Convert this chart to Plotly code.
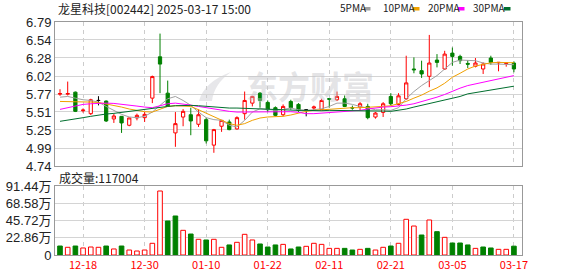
import plotly.graph_objects as go
from plotly.subplots import make_subplots

# ---------------- data ----------------
dates = ["12-13", "12-16", "12-17", "12-18", "12-19", "12-20", "12-23", "12-24", "12-25", "12-26",
         "12-27", "12-30", "12-31", "01-02", "01-03", "01-06", "01-07", "01-08", "01-09", "01-10",
         "01-13", "01-14", "01-15", "01-16", "01-17", "01-20", "01-21", "01-22", "01-23", "01-24",
         "01-27", "02-05", "02-06", "02-07", "02-10", "02-11", "02-12", "02-13", "02-14", "02-17",
         "02-18", "02-19", "02-20", "02-21", "02-24", "02-25", "02-26", "02-27", "02-28", "03-03",
         "03-04", "03-05", "03-06", "03-07", "03-10", "03-11", "03-12", "03-13", "03-14", "03-17"]

opens = [5.762, 5.762, 5.791, 5.527, 5.485, 5.673, 5.664, 5.410, 5.447, 5.320,
         5.424, 5.428, 5.706, 6.295, 5.777, 5.211, 5.437, 5.470, 5.334, 5.400,
         5.037, 5.306, 5.367, 5.268, 5.485, 5.635, 5.777, 5.645, 5.570, 5.470,
         5.659, 5.617, 5.541, 5.565, 5.541, 5.700, 5.683, 5.697, 5.572, 5.579,
         5.588, 5.437, 5.503, 5.730, 5.617, 5.697, 6.121, 6.097, 6.017, 6.248,
         6.121, 6.347, 6.300, 6.200, 6.159, 6.121, 6.277, 6.208, 6.200, 6.206]
highs = [5.833, 5.942, 5.800, 5.560, 5.697, 5.734, 5.673, 5.485, 5.452, 5.428,
         5.485, 5.508, 6.027, 6.625, 5.956, 5.508, 5.550, 5.570, 5.546, 5.428,
         5.268, 5.390, 5.400, 5.447, 5.800, 5.739, 5.791, 5.673, 5.588, 5.617,
         5.683, 5.635, 5.550, 5.600, 5.697, 5.700, 5.800, 5.744, 5.600, 5.650,
         5.626, 5.508, 5.650, 5.777, 5.777, 6.310, 6.286, 6.239, 6.606, 6.333,
         6.380, 6.427, 6.324, 6.248, 6.277, 6.215, 6.310, 6.215, 6.215, 6.230]
lows = [5.739, 5.744, 5.508, 5.500, 5.466, 5.603, 5.367, 5.353, 5.211, 5.306,
        5.390, 5.367, 5.635, 5.777, 5.579, 5.013, 5.306, 5.178, 5.296, 5.060,
        4.928, 5.226, 5.249, 5.258, 5.400, 5.588, 5.570, 5.508, 5.447, 5.447,
        5.541, 5.508, 5.447, 5.532, 5.532, 5.570, 5.664, 5.579, 5.541, 5.532,
        5.405, 5.414, 5.438, 5.603, 5.603, 5.683, 6.060, 5.994, 5.862, 6.144,
        6.107, 6.168, 6.192, 6.135, 6.144, 6.050, 6.182, 6.088, 6.154, 6.074]
closes = [5.772, 5.772, 5.518, 5.536, 5.683, 5.673, 5.381, 5.452, 5.353, 5.424,
          5.461, 5.475, 6.013, 6.191, 5.588, 5.343, 5.518, 5.381, 5.470, 5.098,
          5.258, 5.390, 5.258, 5.428, 5.673, 5.730, 5.673, 5.541, 5.461, 5.588,
          5.570, 5.532, 5.541, 5.580, 5.673, 5.690, 5.730, 5.588, 5.565, 5.626,
          5.428, 5.494, 5.626, 5.626, 5.739, 5.923, 6.110, 6.050, 6.206, 6.215,
          6.333, 6.300, 6.239, 6.190, 6.206, 6.192, 6.215, 6.215, 6.206, 6.121]

ma5 = [5.720, 5.730, 5.706, 5.683, 5.673, 5.650, 5.588, 5.532, 5.475, 5.438,
       5.428, 5.447, 5.508, 5.603, 5.697, 5.730, 5.673, 5.603, 5.508, 5.428,
       5.400, 5.390, 5.320, 5.296, 5.390, 5.508, 5.555, 5.546, 5.532, 5.546,
       5.565, 5.541, 5.532, 5.541, 5.555, 5.588, 5.635, 5.635, 5.617, 5.588,
       5.565, 5.541, 5.541, 5.532, 5.570, 5.697, 5.800, 5.885, 5.956, 6.027,
       6.121, 6.215, 6.248, 6.248, 6.239, 6.206, 6.191, 6.191, 6.187, 6.182]
ma10 = [5.659, 5.659, 5.654, 5.650, 5.650, 5.645, 5.626, 5.603, 5.579, 5.551,
        5.532, 5.513, 5.508, 5.551, 5.588, 5.598, 5.598, 5.588, 5.541, 5.494,
        5.438, 5.390, 5.343, 5.320, 5.343, 5.390, 5.423, 5.438, 5.438, 5.447,
        5.466, 5.494, 5.518, 5.532, 5.541, 5.551, 5.560, 5.570, 5.570, 5.570,
        5.574, 5.579, 5.588, 5.598, 5.626, 5.659, 5.706, 5.749, 5.805, 5.852,
        5.918, 6.003, 6.060, 6.121, 6.163, 6.191, 6.210, 6.215, 6.215, 6.210]
ma20 = [5.546, 5.570, 5.598, 5.617, 5.626, 5.635, 5.635, 5.631, 5.621, 5.607,
        5.593, 5.579, 5.570, 5.598, 5.626, 5.635, 5.626, 5.607, 5.588, 5.570,
        5.551, 5.532, 5.518, 5.508, 5.508, 5.508, 5.513, 5.518, 5.518, 5.518,
        5.513, 5.504, 5.485, 5.485, 5.494, 5.504, 5.513, 5.518, 5.522, 5.532,
        5.551, 5.570, 5.579, 5.584, 5.593, 5.607, 5.626, 5.654, 5.687, 5.720,
        5.758, 5.805, 5.848, 5.885, 5.909, 5.928, 5.956, 5.979, 6.003, 6.027]
ma30 = [5.376, 5.390, 5.409, 5.428, 5.447, 5.466, 5.480, 5.489, 5.504, 5.513,
        5.527, 5.541, 5.560, 5.579, 5.588, 5.598, 5.603, 5.603, 5.598, 5.588,
        5.579, 5.570, 5.565, 5.565, 5.560, 5.560, 5.555, 5.551, 5.546, 5.541,
        5.536, 5.532, 5.532, 5.527, 5.527, 5.532, 5.532, 5.532, 5.532, 5.532,
        5.527, 5.527, 5.522, 5.518, 5.532, 5.551, 5.579, 5.603, 5.626, 5.650,
        5.673, 5.697, 5.730, 5.767, 5.786, 5.810, 5.829, 5.843, 5.857, 5.876]

# volume in 万 (10k) shares
volumes = [11.9, 10.2, 11.9, 9.3, 10.6, 10.2, 11.9, 8.0, 11.9, 6.6,
           5.3, 6.6, 15.5, 84.8, 45.1, 51.7, 32.7, 27.8, 20.8, 19.9,
           20.8, 10.2, 13.3, 16.8, 27.4, 19.9, 14.6, 10.6, 13.3, 14.1,
           8.0, 10.6, 11.5, 15.5, 14.1, 8.8, 8.8, 8.8, 6.6, 7.5,
           8.8, 6.6, 10.2, 11.9, 15.5, 47.3, 38.4, 26.5, 46.4, 30.9,
           23.4, 15.9, 15.9, 13.3, 8.8, 10.6, 9.3, 7.5, 7.5, 11.7004]
vol_up = [0, 1, 0, 1, 1, 1, 0, 1, 0, 1,
          1, 1, 1, 1, 0, 0, 1, 0, 1, 0,
          1, 1, 0, 1, 1, 1, 0, 0, 0, 1,
          0, 0, 1, 1, 1, 1, 1, 0, 0, 1,
          0, 1, 1, 0, 1, 1, 1, 0, 1, 0,
          1, 0, 0, 0, 1, 0, 0, 1, 1, 0]

price_ticks = [4.74, 4.996, 5.253, 5.509, 5.765, 6.021, 6.278, 6.534, 6.79]
price_tick_text = ["4.74", "4.99", "5.25", "5.51", "5.77", "6.02", "6.28", "6.54", "6.79"]
vol_ticks = [0, 22.86, 45.72, 68.58, 91.44]
vol_tick_text = ["0", "22.86万", "45.72万", "68.58万", "91.44万"]
date_ticks = ["12-18", "12-30", "01-10", "01-22", "02-11", "02-21", "03-05", "03-17"]
title_text = "龙星科技[002442] 2025-03-17 15:00"
last_volume = 117004
ma_names = ["5PMA", "10PMA", "20PMA", "30PMA"]

# ---------------- style ----------------
RED = "#ff0000"
GREEN = "#008000"
MA_COLORS = ["#a0a0a0", "#f0a000", "#ff00ff", "#006e2e"]
W, H = 578, 276
L, R, T, B = 55, 56, 22, 21
PW, PH = W - L - R, H - T - B


def px_x(x):
    return (x - L) / PW


def px_y(y):
    return (H - B - y) / PH


fig = make_subplots(rows=2, cols=1, shared_xaxes=True)

normal = [i for i in range(len(dates)) if opens[i] != closes[i]]
doji = [i for i in range(len(dates)) if opens[i] == closes[i]]

fig.add_trace(go.Candlestick(
    x=[dates[i] for i in normal], open=[opens[i] for i in normal],
    high=[highs[i] for i in normal], low=[lows[i] for i in normal],
    close=[closes[i] for i in normal],
    increasing=dict(line=dict(color=RED, width=1), fillcolor="white"),
    decreasing=dict(line=dict(color=GREEN, width=1), fillcolor=GREEN),
    whiskerwidth=0, showlegend=False, hoverinfo="skip"), row=1, col=1)
if doji:
    fig.add_trace(go.Candlestick(
        x=[dates[i] for i in doji], open=[opens[i] for i in doji],
        high=[highs[i] for i in doji], low=[lows[i] for i in doji],
        close=[closes[i] for i in doji],
        increasing=dict(line=dict(color="black", width=1), fillcolor="black"),
        decreasing=dict(line=dict(color="black", width=1), fillcolor="black"),
        whiskerwidth=0, showlegend=False, hoverinfo="skip"), row=1, col=1)

for vals, name, col in zip([ma5, ma10, ma20, ma30], ma_names, MA_COLORS):
    fig.add_trace(go.Scatter(x=dates, y=vals, mode="lines", name=name,
                             line=dict(color=col, width=1), showlegend=False,
                             hoverinfo="skip"), row=1, col=1)

fig.add_trace(go.Bar(
    x=dates, y=volumes, width=0.6,
    marker=dict(color=["white" if u else GREEN for u in vol_up],
                line=dict(color=[RED if u else GREEN for u in vol_up], width=1)),
    showlegend=False, hoverinfo="skip"), row=2, col=1)

axis_common = dict(type="category", categoryorder="array", categoryarray=dates,
                   range=[-0.65, len(dates) + 0.05], tickmode="array", tickvals=date_ticks,
                   showgrid=True, gridcolor="#cccccc", griddash="4px,4px", gridwidth=1,
                   showline=True, linecolor="#999999", linewidth=1, mirror=True,
                   ticks="", rangeslider=dict(visible=False), zeroline=False,
                   automargin=False)

fig.update_layout(
    width=W, height=H, margin=dict(l=L, r=R, t=T, b=B, autoexpand=False),
    paper_bgcolor="white", plot_bgcolor="white", boxgap=0.4, bargap=0.4,
    xaxis=dict(**axis_common, showticklabels=False),
    xaxis2=dict(**axis_common, showticklabels=True,
                tickfont=dict(family="Noto Sans CJK SC", size=11, color=RED)),
    yaxis=dict(domain=[px_y(166), 1], range=[price_ticks[0], price_ticks[-1]],
               tickmode="array", tickvals=price_ticks, ticktext=price_tick_text,
               showgrid=True, gridcolor="#d4d4d4", showline=True, linecolor="#999999",
               mirror=True, ticks="", zeroline=False, automargin=False,
               tickfont=dict(family="Liberation Sans", size=13, color="#222222")),
    yaxis2=dict(domain=[0, px_y(186)], range=[vol_ticks[0], vol_ticks[-1]],
                tickmode="array", tickvals=vol_ticks, ticktext=vol_tick_text,
                showgrid=True, gridcolor="#d4d4d4", showline=True, linecolor="#999999",
                mirror=True, ticks="", zeroline=False, automargin=False,
                tickfont=dict(family="Liberation Sans, Noto Sans CJK SC", size=13,
                              color="#222222")),
)

ann = []
ann.append(dict(text=title_text, x=px_x(56), y=px_y(8.5), xref="paper", yref="paper",
                xanchor="left", yanchor="middle", showarrow=False,
                font=dict(family="Noto Sans CJK SC", size=12, color="#222222")))
ann.append(dict(text="成交量:" + str(last_volume), x=px_x(57), y=px_y(177),
                xref="paper", yref="paper", xanchor="left", yanchor="middle",
                showarrow=False,
                font=dict(family="Noto Sans CJK SC", size=12, color="#222222")))
ann.append(dict(text="东方财富", x=px_x(310), y=px_y(85), xref="paper", yref="paper",
                xanchor="center", yanchor="middle", showarrow=False,
                font=dict(family="Noto Sans CJK SC", size=32, color="rgba(195,195,200,0.45)",
                          weight="bold")))

legend_text_x = [338, 381, 426, 471]
legend_sq_x = [364, 413, 458, 504]
shapes = []
for name, col, tx, sx in zip(ma_names, MA_COLORS, legend_text_x, legend_sq_x):
    ann.append(dict(text=name, x=px_x(tx), y=px_y(8), xref="paper", yref="paper",
                    xanchor="left", yanchor="middle", showarrow=False,
                    font=dict(family="Noto Sans CJK SC", size=10, color="#222222")))
    shapes.append(dict(type="rect", xref="paper", yref="paper",
                       x0=px_x(sx), x1=px_x(sx + 6.5), y0=px_y(10.5), y1=px_y(7),
                       fillcolor=col, line=dict(width=0)))

# watermark logo (decorative swoosh)
logo_pts = [(199, 101), (204, 82), (231, 72), (214, 84), (212, 101)]
p = [(px_x(x), px_y(y)) for x, y in logo_pts]
logo_path = (f"M {p[0][0]},{p[0][1]} Q {p[1][0]},{p[1][1]} {p[2][0]},{p[2][1]} "
             f"Q {p[3][0]},{p[3][1]} {p[4][0]},{p[4][1]} Z")
shapes.append(dict(type="path", xref="paper", yref="paper", path=logo_path,
                   fillcolor="rgba(215,215,220,0.6)", line=dict(width=0), layer="below"))

fig.update_layout(annotations=ann, shapes=shapes)
fig.write_html("out.html")
